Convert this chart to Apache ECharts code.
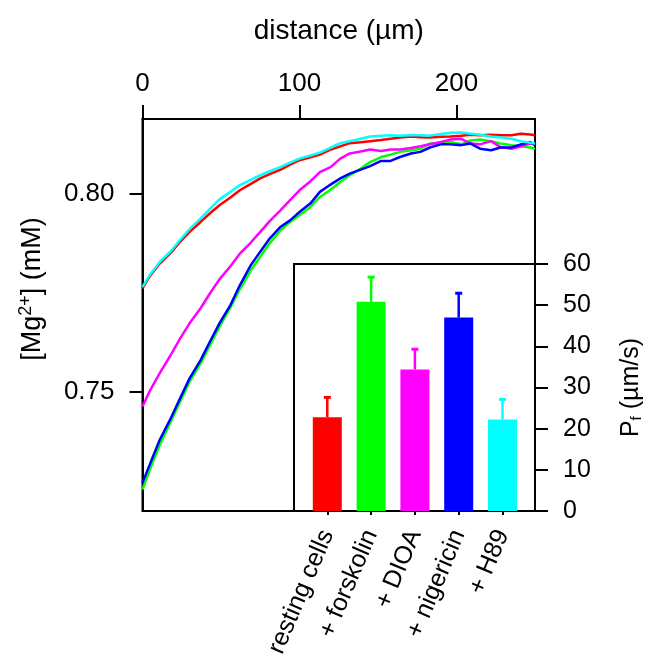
<!DOCTYPE html>
<html style="height: 100%">
<head>
    <meta charset="utf-8">
    <title>Mg2+ profiles and Pf</title>
    <script src="https://cdn.jsdelivr.net/npm/echarts@6/dist/echarts.min.js"></script>
</head>
<body style="height: 100%; margin: 0; background: #fff">
<div id="container" style="width: 650px; height: 656px"></div>
<script type="text/javascript">
    var FONT = 'Liberation Sans, Arial, sans-serif';

    // distance along the profile (µm)
    var distance = [0, 5, 11, 18, 24, 30, 37, 43, 49, 56, 62, 69, 75, 81, 88, 94, 100, 107, 113, 120,
        126, 132, 139, 145, 152, 158, 164, 171, 177, 183, 190, 196, 203, 209, 215, 222, 228, 235, 241, 247, 250];

    // [Mg2+] (mM)
    var mgResting = [0.7762, 0.7795, 0.7825, 0.7852, 0.7880, 0.7905, 0.7930, 0.7952, 0.7972, 0.7992, 0.8010,
        0.8026, 0.8040, 0.8051, 0.8062, 0.8075, 0.8086, 0.8093, 0.8100, 0.8113, 0.8121, 0.8129, 0.8131, 0.8134,
        0.8137, 0.8140, 0.8143, 0.8146, 0.8144, 0.8143, 0.8145, 0.8146, 0.8148, 0.8150, 0.8149, 0.8150, 0.8149,
        0.8149, 0.8153, 0.8151, 0.8149];
    var mgForskolin = [0.7254, 0.7308, 0.7367, 0.7426, 0.7476, 0.7527, 0.7573, 0.7619, 0.7665, 0.7714, 0.7760,
        0.7808, 0.7842, 0.7876, 0.7909, 0.7930, 0.7947, 0.7968, 0.7993, 0.8012, 0.8031, 0.8048, 0.8065, 0.8081,
        0.8094, 0.8100, 0.8107, 0.8111, 0.8115, 0.8128, 0.8129, 0.8132, 0.8126, 0.8136, 0.8138, 0.8134, 0.8128,
        0.8124, 0.8121, 0.8118, 0.8115];
    var mgDIOA = [0.7464, 0.7506, 0.7548, 0.7594, 0.7636, 0.7674, 0.7712, 0.7750, 0.7785, 0.7818, 0.7850,
        0.7878, 0.7905, 0.7932, 0.7960, 0.7985, 0.8010, 0.8033, 0.8056, 0.8069, 0.8090, 0.8103, 0.8108, 0.8113,
        0.8109, 0.8113, 0.8113, 0.8117, 0.8121, 0.8126, 0.8132, 0.8138, 0.8140, 0.8128, 0.8126, 0.8134, 0.8119,
        0.8115, 0.8121, 0.8128, 0.8126];
    var mgNigericin = [0.7271, 0.7321, 0.7380, 0.7434, 0.7485, 0.7535, 0.7581, 0.7628, 0.7674, 0.7720, 0.7770,
        0.7821, 0.7855, 0.7888, 0.7918, 0.7934, 0.7955, 0.7977, 0.8006, 0.8025, 0.8040, 0.8052, 0.8062, 0.8071,
        0.8084, 0.8084, 0.8094, 0.8103, 0.8107, 0.8118, 0.8126, 0.8126, 0.8124, 0.8128, 0.8115, 0.8111, 0.8118,
        0.8118, 0.8126, 0.8132, 0.8124];
    var mgH89 = [0.7766, 0.7798, 0.7829, 0.7856, 0.7885, 0.7912, 0.7939, 0.7963, 0.7987, 0.8006, 0.8023,
        0.8036, 0.8048, 0.8058, 0.8069, 0.8080, 0.8090, 0.8098, 0.8105, 0.8118, 0.8129, 0.8134, 0.8140, 0.8146,
        0.8148, 0.8149, 0.8148, 0.8149, 0.8149, 0.8148, 0.8152, 0.8155, 0.8156, 0.8153, 0.8150, 0.8146, 0.8143,
        0.8140, 0.8134, 0.8130, 0.8128];

    // inset: Pf (µm/s)
    var conditions = ['resting cells', '+ forskolin', '+ DIOA', '+ nigericin', '+ H89'];
    var pfMean = [22.8, 50.8, 34.4, 47.0, 22.2];
    var pfErr = [4.8, 6.0, 4.9, 5.9, 4.9];
    var colors = ['#ff0000', '#00ff00', '#ff00ff', '#0000ff', '#00ffff'];

    var distTicks = [0, 100, 200];
    var mgTicks = [0.75, 0.80];

    function pairs(ys) {
        return distance.map(function (d, i) { return [d, ys[i]]; });
    }

    var traces = [
        {data: mgResting, color: colors[0]},
        {data: mgForskolin, color: colors[1]},
        {data: mgDIOA, color: colors[2]},
        {data: mgNigericin, color: colors[3]},
        {data: mgH89, color: colors[4]}
    ];

    var myChart = echarts.init(document.getElementById('container'));

    var lineSeries = traces.map(function (t) {
        return {
            type: 'line',
            xAxisIndex: 0,
            yAxisIndex: 0,
            data: pairs(t.data),
            showSymbol: false,
            lineStyle: {color: t.color, width: 2.5},
            itemStyle: {color: t.color},
            z: 3
        };
    });

    var option = {
        animation: false,
        backgroundColor: '#fff',
        textStyle: {fontFamily: FONT},
        grid: [
            {left: 142.5, top: 119, width: 392.5, height: 392, outerBoundsMode: 'none', containLabel: false,
                show: true, borderColor: '#000', borderWidth: 2, backgroundColor: 'transparent'},
            {left: 305.4, top: 264, width: 219, height: 247, outerBoundsMode: 'none', containLabel: false},
            {left: 294, top: 264, width: 241, height: 247, outerBoundsMode: 'none', containLabel: false,
                show: true, borderColor: '#000', borderWidth: 2, backgroundColor: 'transparent'}
        ],
        xAxis: [
            {
                gridIndex: 0, type: 'value', position: 'top', min: 0, max: 250,
                name: 'distance (µm)', nameLocation: 'middle', nameGap: 74,
                nameTextStyle: {fontSize: 28, color: '#000', fontFamily: FONT},
                axisLine: {show: true, lineStyle: {color: '#000', width: 2}},
                axisTick: {show: true, inside: false, length: 14, customValues: distTicks, lineStyle: {color: '#000', width: 2}},
                axisLabel: {fontSize: 26, color: '#000', margin: 22, customValues: distTicks, fontFamily: FONT},
                splitLine: {show: false}
            },
            {
                gridIndex: 1, type: 'category', data: conditions, boundaryGap: true,
                axisLine: {show: true, lineStyle: {color: '#000', width: 2}},
                axisTick: {show: true, alignWithLabel: true, length: 4, lineStyle: {color: '#000', width: 2}},
                axisLabel: {fontSize: 25, color: '#000', rotate: 67, margin: 20, interval: 0, fontFamily: FONT},
                splitLine: {show: false}
            },
            {gridIndex: 2, type: 'value', show: false}
        ],
        yAxis: [
            {
                gridIndex: 0, type: 'value', min: 0.72, max: 0.819,
                name: '{a|[Mg}{s|2+}{a|] (mM)}', nameLocation: 'middle', nameGap: 94,
                nameTextStyle: {
                    color: '#000', fontFamily: FONT, padding: [0, 0, 0, 52],
                    rich: {
                        a: {fontSize: 27, color: '#000', fontFamily: FONT},
                        s: {fontSize: 18, color: '#000', fontFamily: FONT, padding: [0, 0, 13, 0]}
                    }
                },
                axisLine: {show: true, lineStyle: {color: '#000', width: 2}},
                axisTick: {show: true, inside: false, length: 13, customValues: mgTicks, lineStyle: {color: '#000', width: 2}},
                axisLabel: {
                    fontSize: 26, color: '#000', margin: 28, customValues: mgTicks, fontFamily: FONT,
                    formatter: function (v) { return v.toFixed(2); }
                },
                splitLine: {show: false}
            },
            {
                gridIndex: 1, type: 'value', min: 0, max: 60, interval: 10, position: 'right', offset: 10.6,
                name: '{a|P}{s|f}{a| (µm/s)}', nameLocation: 'middle', nameGap: 84, nameRotate: 90,
                nameTextStyle: {
                    color: '#000', fontFamily: FONT,
                    rich: {
                        a: {fontSize: 25, color: '#000', fontFamily: FONT},
                        s: {fontSize: 15, color: '#000', fontFamily: FONT, padding: [10, 0, 0, 0]}
                    }
                },
                axisLine: {show: true, lineStyle: {color: '#000', width: 2}},
                axisTick: {show: true, inside: false, length: 13, lineStyle: {color: '#000', width: 2}},
                axisLabel: {fontSize: 25, color: '#000', margin: 28, fontFamily: FONT},
                splitLine: {show: false}
            },
            {gridIndex: 2, type: 'value', show: false}
        ],
        series: lineSeries.concat([
            {
                type: 'bar',
                xAxisIndex: 1,
                yAxisIndex: 1,
                barWidth: 29,
                data: pfMean.map(function (v, i) { return {value: v, itemStyle: {color: colors[i]}}; }),
                z: 4
            },
            {
                type: 'custom',
                xAxisIndex: 1,
                yAxisIndex: 1,
                data: pfMean.map(function (v, i) { return [i, v, v + pfErr[i]]; }),
                z: 5,
                renderItem: function (params, api) {
                    var i = api.value(0);
                    var base = api.coord([i, api.value(1)]);
                    var top = api.coord([i, api.value(2)]);
                    var c = colors[i];
                    return {
                        type: 'group',
                        children: [
                            {type: 'line', shape: {x1: base[0], y1: base[1], x2: top[0], y2: top[1]}, style: {stroke: c, lineWidth: 2.5}},
                            {type: 'line', shape: {x1: top[0] - 3.5, y1: top[1], x2: top[0] + 3.5, y2: top[1]}, style: {stroke: c, lineWidth: 3}}
                        ]
                    };
                }
            }
        ])
    };
    myChart.setOption(option);
</script>
</body>
</html>
